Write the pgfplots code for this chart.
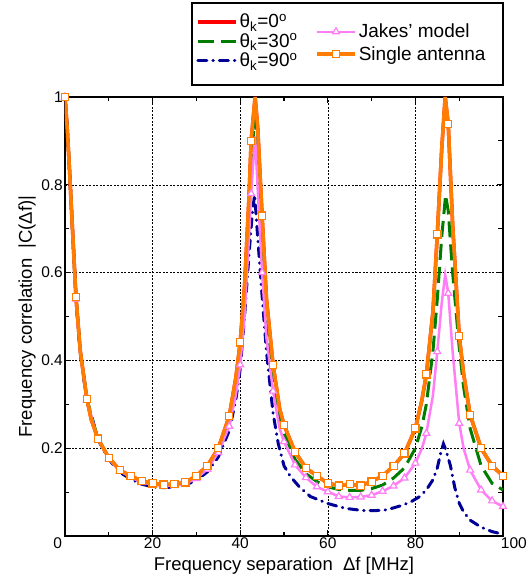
\documentclass[border=0pt]{standalone}
\usepackage{fontspec}
\setmainfont{Liberation Sans}
\usepackage{pgfplots}
\usepackage{pgfplotstable}
\pgfplotsset{compat=1.18}
\definecolor{cred}{RGB}{255,0,0}
\definecolor{cgreen}{RGB}{0,125,0}
\definecolor{cblue}{RGB}{0,0,150}
\definecolor{cpink}{RGB}{255,125,245}
\definecolor{corange}{RGB}{255,125,0}

\pgfplotstableread{
f C m
0 1.000 1
0.5 0.93 0
1 0.84 0
1.5 0.74 0
2.5 0.545 1
3.5 0.42 0
5 0.312 1
6 0.265 0
7.5 0.222 1
10 0.178 1
12.5 0.150 1
15 0.137 1
17.5 0.125 1
20 0.120 1
22.5 0.117 1
25 0.118 1
27.5 0.122 1
30 0.137 1
32.5 0.160 1
35 0.200 1
37.5 0.273 1
39 0.36 0
40 0.441 1
41 0.57 0
42 0.77 0
42.5 0.90 1
43.4 1.0 0
44 0.93 0
45 0.73 1
46 0.54 0
47.5 0.39 1
49 0.29 0
50 0.253 1
52.5 0.192 1
55 0.155 1
57.5 0.137 1
60 0.120 1
62.5 0.115 1
65 0.118 1
67.5 0.115 1
70 0.124 1
72.5 0.137 1
75 0.159 1
77.5 0.188 1
80 0.245 1
81.5 0.31 0
82.5 0.368 1
84 0.51 0
85 0.687 1
86 0.88 0
86.8 1.0 0
87.5 0.938 1
88.5 0.71 0
90 0.456 1
91 0.37 0
92.5 0.276 1
95 0.200 1
97.5 0.160 1
100 0.137 1
}\single

\pgfplotstableread{
f C m
0 1.0 1
0.5 0.93 0
1 0.84 0
1.5 0.74 0
2.5 0.54 1
3.5 0.415 0
5 0.31 1
7.5 0.22 1
10 0.176 1
12.5 0.148 1
15 0.134 1
17.5 0.122 1
20 0.117 1
22.5 0.114 1
25 0.115 1
27.5 0.119 1
30 0.131 1
32.5 0.152 1
35 0.19 1
37.5 0.25 1
39 0.32 0
40 0.39 1
41 0.50 0
42 0.68 0
42.5 0.78 1
43.4 0.91 0
44 0.79 0
45 0.60 1
46 0.45 0
47.5 0.33 1
49 0.245 0
50 0.215 1
52.5 0.162 1
55 0.133 1
57.5 0.112 1
60 0.101 1
62.5 0.090 1
65 0.088 1
67.5 0.089 1
70 0.093 1
72.5 0.102 1
75 0.114 1
77.5 0.132 1
80 0.166 1
81.5 0.20 0
82.5 0.234 1
84 0.32 0
85 0.42 1
86 0.53 0
86.8 0.595 0
87.5 0.553 1
88.5 0.42 0
90 0.257 1
91 0.20 0
92.5 0.150 1
95 0.105 1
97.5 0.080 1
100 0.067 1
}\jakes

\pgfplotstableread{
f C
0 1.0
0.5 0.93
1 0.84
1.5 0.74
2.5 0.545
3.5 0.42
5 0.312
7.5 0.222
10 0.178
12.5 0.150
15 0.136
17.5 0.124
20 0.119
22.5 0.116
25 0.117
27.5 0.121
30 0.135
32.5 0.157
35 0.197
37.5 0.268
39 0.35
40 0.43
41 0.55
42 0.74
42.5 0.86
43.4 0.95
44 0.87
45 0.69
46 0.51
47.5 0.36
49 0.27
50 0.235
52.5 0.175
55 0.142
57.5 0.124
60 0.112
62.5 0.106
65 0.104
67.5 0.104
70 0.108
72.5 0.116
75 0.132
77.5 0.155
80 0.20
81.5 0.25
82.5 0.30
84 0.42
85 0.54
86 0.68
86.9 0.777
87.5 0.74
88.5 0.60
90 0.43
91 0.34
92.5 0.245
95 0.16
97.5 0.12
100 0.105
}\thirty

\pgfplotstableread{
f C
0 1.0
0.5 0.93
1 0.84
1.5 0.74
2.5 0.54
3.5 0.415
5 0.31
7.5 0.22
10 0.175
12.5 0.145
15 0.13
17.5 0.118
20 0.112
22.5 0.11
25 0.112
27.5 0.116
30 0.127
32.5 0.146
35 0.18
37.5 0.24
39 0.31
40 0.38
41 0.50
42 0.64
42.8 0.74
43.3 0.777
44 0.68
44.9 0.56
46 0.42
47.5 0.28
48.7 0.21
50 0.16
51.5 0.135
53.5 0.112
56 0.09
60 0.074
64 0.063
68 0.058
71 0.058
73 0.059
75 0.064
77 0.07
79 0.078
81 0.09
82.5 0.105
84 0.128
85 0.155
85.8 0.19
86.4 0.21
87 0.195
88 0.16
89 0.11
90 0.075
91 0.055
92.5 0.036
95 0.02
97.5 0.01
100 0.004
}\ninety

\pgfplotsset{
  /pgfplots/legend image code/.code={%
    \draw[mark repeat=2,mark phase=2,#1] plot coordinates {(0pt,0pt) (19pt,0pt) (38pt,0pt)};},
}

\begin{document}
\begin{tikzpicture}
\begin{axis}[
  name=main,
  scale only axis, width=438pt, height=439pt,
  xmin=0, xmax=100, ymin=0, ymax=1,
  xtick={0,20,40,60,80,100},
  xticklabels={\makebox[0pt][r]{0\hspace{3pt}},20,40,60,80,\makebox[0pt][l]{\hspace{-2pt}100}},
  ytick={0,0.2,0.4,0.6,0.8,1},
  yticklabels={,0.2,0.4,0.6,0.8,1},
  minor x tick num=1, minor y tick num=1,
  tick align=inside,
  major tick length=6pt, minor tick length=4.5pt,
  every tick/.style={black, line width=1.2pt},
  axis line style={line width=1.6pt},
  grid=major,
  major grid style={black, line width=0.5pt, dash pattern=on 2pt off 1.5pt},
  tick label style={font=\fontsize{15.5}{18}\selectfont},
  xticklabel style={inner sep=1pt},
  yticklabel style={inner sep=2pt},
  label style={font=\fontsize{18.5}{22}\selectfont},
  xlabel={Frequency separation\ \ Δf [MHz]},
  xlabel style={yshift=-4pt},
  ylabel={Frequency correlation\ \ |C(Δf)|},
  legend style={at={(0.299,1.1936)}, anchor=north west, draw=none, fill=none,
    font=\fontsize{19}{22}\selectfont, row sep=0pt, inner sep=0pt},
  legend cell align=left,
]
\addplot[cred, line width=3.5pt, no marks] table[x=f,y=C] {\single};
\addlegendentry{θ\textsubscript{k}=0\textsuperscript{o}}
\addplot[cgreen, line width=3pt, no marks, dash pattern=on 16pt off 7pt] table[x=f,y=C] {\thirty};
\addlegendentry{θ\textsubscript{k}=30\textsuperscript{o}}
\addplot[cblue, line width=3pt, no marks, line cap=round, dash pattern=on 9pt off 6pt on 0.5pt off 6pt] table[x=f,y=C] {\ninety};
\addlegendentry{θ\textsubscript{k}=90\textsuperscript{o}}
\end{axis}

\begin{axis}[
  at={(main.south west)}, anchor=south west,
  scale only axis, width=438pt, height=439pt,
  xmin=0, xmax=100, ymin=0, ymax=1,
  hide axis,
  legend style={at={(0.571,1.171)}, anchor=north west, draw=none, fill=none,
    font=\fontsize{19}{22}\selectfont, row sep=3pt, inner sep=0pt},
  legend cell align=left,
]
\addplot[cpink, line width=2.5pt, no marks,
  legend image post style={mark=triangle*, mark size=4pt, mark options={fill=white, draw=cpink, line width=1.2pt, solid}}]
  table[x=f,y=C] {\jakes};
\addlegendentry{Jakes' model}
\addplot[only marks, mark=triangle*, mark size=4pt, mark options={fill=white, draw=cpink, line width=1.2pt}, forget plot,
  restrict expr to domain={\thisrow{m}}{0.5:1.5}, unbounded coords=discard]
  table[x=f,y=C] {\jakes};
\addplot[corange, line width=3.5pt, no marks,
  legend image post style={mark=square*, mark size=3.6pt, mark options={fill=white, draw=corange, line width=1.2pt, solid}}]
  table[x=f,y=C] {\single};
\addlegendentry{Single antenna}
\addplot[only marks, mark=square*, mark size=3.6pt, mark options={fill=white, draw=corange, line width=1.2pt}, forget plot,
  restrict expr to domain={\thisrow{m}}{0.5:1.5}, unbounded coords=discard]
  table[x=f,y=C] {\single};
\end{axis}

\draw[line width=1.5pt] ([xshift=-311pt,yshift=12pt]main.north east) rectangle ([yshift=94pt]main.north east);
\path ([xshift=-65pt,yshift=-46pt]main.south west) rectangle ([xshift=25pt,yshift=97pt]main.north east);
\end{tikzpicture}
\end{document}
